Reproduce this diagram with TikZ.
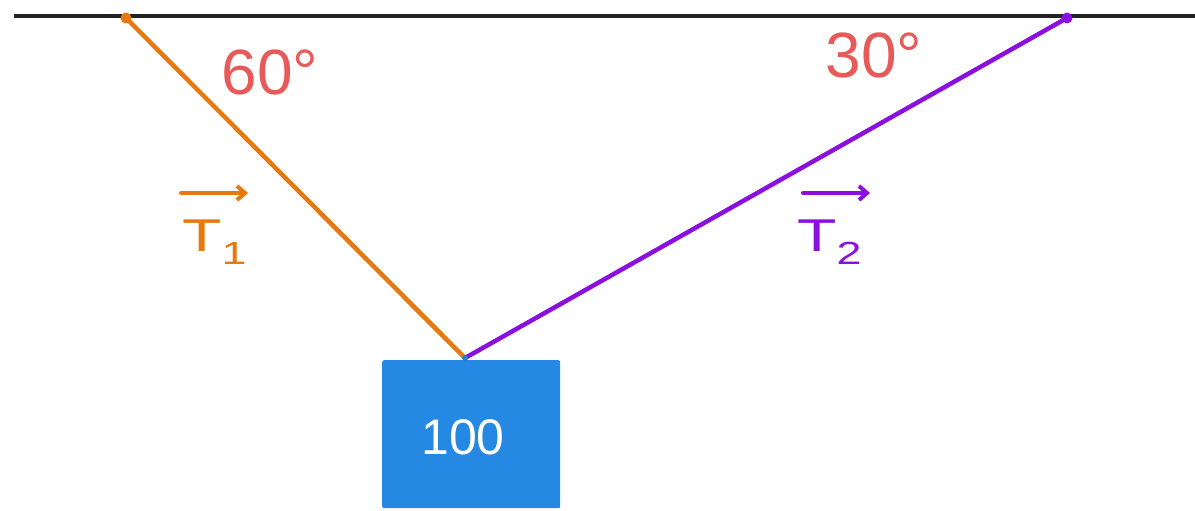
\documentclass[tikz,border=0pt]{standalone}
\usepackage{fontspec}
\setmainfont{Liberation Sans}
\usetikzlibrary{arrows.meta}
\definecolor{ropeA}{HTML}{E8790F}
\definecolor{ropeB}{HTML}{8B10E0}
\definecolor{angred}{HTML}{E85A5A}
\definecolor{boxblue}{HTML}{2589E3}
\definecolor{ceil}{HTML}{222222}
\tikzset{
  rope/.style={line width=4.5pt},
  anglab/.style={text=angred, font=\fontsize{64}{64}\selectfont, inner sep=0pt},
  tlab/.style={font=\fontsize{46}{46}\selectfont, inner sep=0pt, anchor=base west},
  vecarrow/.style={line width=4pt, line cap=round, -{Straight Barb[length=8pt,width=14pt,line width=4pt]}},
  anchordot/.style={circle, inner sep=0pt, minimum size=11pt},
}
\newcommand{\tsub}[1]{\raisebox{-0.3em}{\fontsize{32}{32}\selectfont #1}}
\begin{document}
\begin{tikzpicture}[x=1pt,y=-1pt]
\useasboundingbox (0,0) rectangle (1195,511);
\coordinate (cl) at (14,16);
\coordinate (cr) at (1195,16);
\draw[ceil, line width=4.5pt] (cl) -- (cr);
\node[anchordot, fill=ropeA] (pa) at (126,18) {};
\node[anchordot, fill=ropeB] (pb) at (1067,18) {};
\node[draw=none, fill=boxblue, rounded corners=2pt, minimum width=178pt, minimum height=148pt, anchor=north west, inner sep=0pt] (mass) at (382,360) {};
\node[text=white, font=\fontsize{50}{50}\selectfont, inner sep=0pt] (mlab) at (463,437) {100};
\coordinate (j) at (465,358);
\draw[rope, ropeA] (pa.center) -- (j);
\draw[rope, ropeB] (pb.center) -- (j);
\node[circle, fill=boxblue!70!teal, inner sep=0pt, minimum size=6pt] (jd) at (j) {};
\node[anglab] (a60) at (270,72) {60°};
\node[anglab] (a30) at (874,55) {30°};
\node[tlab, text=ropeA, xscale=1.4] (t1) at (182,251) {T\tsub{1}};
\node[tlab, text=ropeB, xscale=1.4] (t2) at (797,251) {T\tsub{2}};
\coordinate (t1a) at (181,193);
\coordinate (t1b) at (248,193);
\coordinate (t2a) at (803,193);
\coordinate (t2b) at (870,193);
\draw[vecarrow, ropeA] (t1a) -- (t1b);
\draw[vecarrow, ropeB] (t2a) -- (t2b);
\end{tikzpicture}
\end{document}
